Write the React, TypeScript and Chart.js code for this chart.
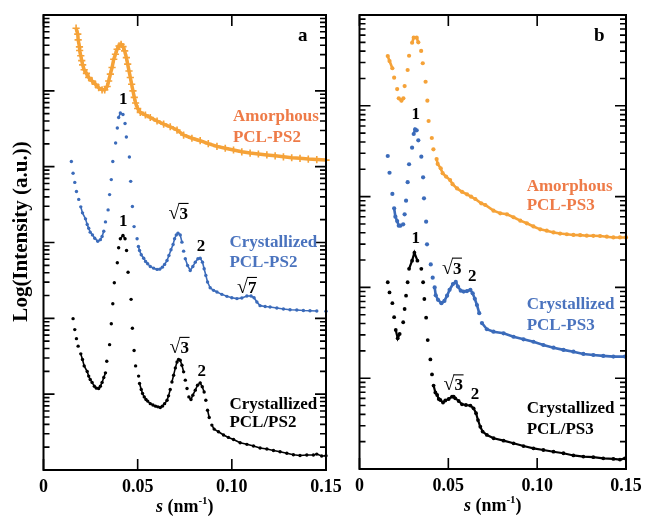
import React, { useEffect, useRef } from "react";
import { Chart, registerables } from "chart.js";

Chart.register(...registerables);

const FONT = '"Liberation Serif", "Times New Roman", serif';
const ORANGE = "#F5A238";
const ORANGE_TEXT = "#EE7B48";
const BLUE = "#3B6BBA";
const BLUE_TEXT = "#4A73BE";
const BLACK = "#000000";

const X_TICK_VALUES = [0, 0.05, 0.1, 0.15];
const X_TICK_LABELS = ["0", "0.05", "0.10", "0.15"];
const Y_MINOR_MULTS = [2, 3, 4, 5, 6, 7, 8, 9];

// ---------- Panel a : [s (nm^-1), intensity (a.u.)] ----------
const A_AMORPHOUS_PS2: [number, number][] = [
  [0.0173, 6.7e5], [0.0182, 5.6e5], [0.0184, 4.7e5], [0.0191, 3.8e5], [0.0192, 3.4e5],
  [0.0198, 2.9e5], [0.0203, 2.5e5], [0.0208, 2.2e5], [0.0216, 1.9e5], [0.0228, 1.7e5],
  [0.024, 1.5e5], [0.0258, 1.35e5], [0.0276, 1.22e5], [0.0293, 1.1e5], [0.0311, 1.03e5],
  [0.0325, 1.03e5], [0.0338, 1.14e5], [0.0346, 1.35e5], [0.0355, 1.66e5], [0.0364, 2.03e5],
  [0.0373, 2.61e5], [0.0382, 3.04e5], [0.0391, 3.54e5], [0.0401, 3.91e5], [0.0412, 4.11e5],
  [0.0422, 3.83e5], [0.0431, 3.36e5], [0.044, 2.74e5], [0.0447, 2.25e5], [0.0454, 1.83e5],
  [0.0461, 1.5e5], [0.0468, 1.22e5], [0.0475, 1.0e5], [0.0482, 8.2e4], [0.0489, 6.9e4],
  [0.05, 5.85e4], [0.0514, 5.2e4], [0.0541, 4.8e4], [0.0567, 4.45e4], [0.0603, 4.0e4],
  [0.0638, 3.65e4], [0.0673, 3.36e4], [0.0709, 3.04e4], [0.0744, 2.61e4], [0.0788, 2.37e4],
  [0.0832, 2.2e4], [0.0875, 2.01e4], [0.0921, 1.85e4], [0.0965, 1.75e4], [0.1009, 1.66e4],
  [0.1053, 1.57e4], [0.1097, 1.51e4], [0.1141, 1.47e4], [0.1186, 1.43e4], [0.123, 1.39e4],
  [0.1274, 1.35e4], [0.1318, 1.31e4], [0.1362, 1.29e4], [0.1406, 1.26e4], [0.1451, 1.24e4],
  [0.15, 1.22e4],
];

const A_CRYSTALLIZED_PS2: [number, number][] = [
  [0.0148, 1.17e4], [0.0157, 8.2e3], [0.0166, 6.2e3], [0.0175, 4.7e3], [0.0187, 3.7e3],
  [0.0198, 2.95e3], [0.0207, 2.46e3], [0.0223, 2.05e3], [0.0232, 1.73e3], [0.024, 1.54e3],
  [0.0248, 1.37e3], [0.026, 1.26e3], [0.0272, 1.14e3], [0.0288, 1.04e3], [0.0302, 1.09e3],
  [0.0311, 1.2e3], [0.032, 1.41e3], [0.0329, 1.87e3], [0.0343, 2.69e3], [0.0351, 4.28e3],
  [0.036, 6.75e3], [0.0368, 1.17e4], [0.0383, 2.05e4], [0.0392, 3.23e4], [0.0399, 4.45e4],
  [0.0408, 5.09e4], [0.0422, 4.88e4], [0.0433, 3.71e4], [0.044, 2.46e4], [0.0456, 1.34e4],
  [0.0463, 6.4e3], [0.0472, 2.98e3], [0.0481, 1.62e3], [0.0497, 1.12e3], [0.0504, 886],
  [0.051, 785], [0.0519, 689], [0.0532, 621], [0.0542, 562], [0.0553, 525],
  [0.0567, 483], [0.0585, 459], [0.0603, 442], [0.0617, 445], [0.0631, 473],
  [0.0643, 514], [0.0656, 579], [0.0666, 675], [0.0677, 802], [0.0688, 942],
  [0.0696, 1.12e3], [0.0705, 1.26e3], [0.0714, 1.33e3], [0.0726, 1.26e3], [0.0735, 1.01e3],
  [0.0744, 769], [0.0753, 611], [0.0765, 498], [0.0779, 428], [0.0793, 483],
  [0.0806, 551], [0.082, 611], [0.0832, 621], [0.0844, 551], [0.0853, 451],
  [0.0862, 368], [0.0871, 301], [0.0885, 253], [0.0903, 234], [0.0921, 222],
  [0.0947, 207], [0.0974, 195], [0.1, 187], [0.1027, 182], [0.1053, 185],
  [0.108, 197], [0.1102, 197], [0.1118, 187], [0.1133, 164], [0.115, 147],
  [0.1177, 143], [0.1203, 141], [0.1239, 137], [0.1274, 133], [0.1309, 130],
  [0.1345, 129], [0.138, 127], [0.1415, 126], [0.1451, 125], [0.15, 124],
];

const A_CRYSTALLIZED_PCL_PS2: [number, number][] = [
  [0.0157, 99], [0.0166, 71], [0.0175, 54], [0.0184, 43], [0.0198, 34],
  [0.0207, 28.6], [0.0216, 23.6], [0.0232, 19.9], [0.024, 17.3], [0.0248, 15.6],
  [0.0258, 14.3], [0.027, 12.7], [0.0281, 12.0], [0.0293, 11.9], [0.0302, 12.7],
  [0.0311, 14.3], [0.032, 16.6], [0.0329, 19.1], [0.0336, 27.2], [0.0351, 45],
  [0.036, 85], [0.0368, 156], [0.0376, 295], [0.0392, 541], [0.0399, 851],
  [0.0408, 1.12e3], [0.0422, 1.24e3], [0.0433, 1.12e3], [0.0441, 785], [0.0449, 406],
  [0.0465, 178], [0.0472, 74], [0.0481, 37.6], [0.0489, 23.6], [0.0505, 17.3],
  [0.051, 13.8], [0.0519, 11.5], [0.0526, 10.2], [0.0535, 9.2], [0.0544, 8.5],
  [0.0553, 8.1], [0.0567, 7.5], [0.0581, 7.2], [0.0595, 6.95], [0.0608, 6.8],
  [0.062, 6.68], [0.0631, 6.95], [0.0643, 7.5], [0.0656, 8.3], [0.0664, 9.5],
  [0.0673, 11.5], [0.0682, 14.5], [0.0691, 17.8], [0.07, 22.2], [0.0709, 26.6],
  [0.0717, 28.6], [0.0726, 28], [0.0735, 24.1], [0.0744, 19.7], [0.0753, 15.3],
  [0.0762, 11.9], [0.0772, 9.2], [0.0783, 8.5], [0.0793, 9.7], [0.0806, 11.3],
  [0.0818, 13.1], [0.0832, 14.1], [0.0843, 12.5], [0.0853, 10.7], [0.0862, 8.3],
  [0.0871, 6.15], [0.088, 4.93], [0.0894, 3.91], [0.0906, 3.46], [0.0929, 3.19],
  [0.0956, 2.89], [0.0982, 2.69], [0.1009, 2.52], [0.1044, 2.29], [0.108, 2.18],
  [0.1115, 2.07], [0.115, 1.95], [0.1186, 1.89], [0.1221, 1.81], [0.1256, 1.74],
  [0.1292, 1.66], [0.1327, 1.59], [0.1362, 1.55], [0.1398, 1.58], [0.1433, 1.58],
  [0.1451, 1.62], [0.1477, 1.53], [0.15, 1.54],
];

// ---------- Panel b ----------
const B_AMORPHOUS_PS3: [number, number][] = [
  [0.0159, 3.53e4], [0.0169, 3.11e4], [0.0185, 2.59e4], [0.0195, 2.04e4], [0.0212, 1.53e4],
  [0.0221, 1.21e4], [0.0236, 1.14e4], [0.0247, 1.21e4], [0.0254, 1.65e4], [0.0271, 2.48e4],
  [0.0279, 3.56e4], [0.0296, 4.95e4], [0.0305, 5.62e4], [0.0322, 5.62e4], [0.0331, 5.0e4],
  [0.0347, 4.02e4], [0.0356, 2.94e4], [0.0372, 1.84e4], [0.0382, 1.14e4], [0.0389, 6.8e3],
  [0.0407, 4.42e3], [0.0416, 3.32e3], [0.0434, 2.59e3], [0.044, 2.29e3], [0.0457, 2.05e3],
  [0.0468, 1.81e3], [0.0487, 1.66e3], [0.051, 1.52e3], [0.0524, 1.37e3], [0.0549, 1.23e3],
  [0.0577, 1.13e3], [0.0605, 1.06e3], [0.0628, 998], [0.0652, 941], [0.0685, 844],
  [0.0708, 808], [0.0754, 700], [0.0792, 655], [0.083, 638], [0.0867, 592],
  [0.0905, 543], [0.0942, 508], [0.0979, 469], [0.1017, 436], [0.1054, 421],
  [0.1092, 403], [0.1129, 392], [0.1167, 385], [0.1204, 378], [0.1242, 376],
  [0.1279, 371], [0.1316, 370], [0.1354, 368], [0.1392, 362], [0.1429, 355],
  [0.1466, 355], [0.15, 355],
];

const B_CRYSTALLIZED_PS3: [number, number][] = [
  [0.0159, 2.8e3], [0.0169, 1.83e3], [0.0185, 1.07e3], [0.0195, 743], [0.0202, 601],
  [0.0212, 538], [0.0221, 478], [0.023, 478], [0.0246, 495], [0.0254, 638],
  [0.0262, 901], [0.0271, 1.44e3], [0.0279, 2.27e3], [0.0296, 3.46e3], [0.0305, 4.89e3],
  [0.0313, 5.51e3], [0.0322, 5.37e3], [0.0331, 4.17e3], [0.0348, 2.75e3], [0.0358, 1.63e3],
  [0.0363, 958], [0.0375, 529], [0.038, 298], [0.0401, 179], [0.0412, 128],
  [0.0423, 100], [0.0429, 82], [0.0442, 73], [0.0461, 67], [0.0478, 71],
  [0.0493, 81], [0.0507, 94], [0.0526, 109], [0.0542, 115], [0.0554, 102],
  [0.057, 92], [0.0586, 90], [0.0605, 91], [0.0624, 94], [0.0637, 86],
  [0.0649, 75], [0.0661, 64], [0.0674, 52], [0.0689, 40.5], [0.0717, 34.6],
  [0.0754, 32.5], [0.0811, 31.2], [0.0867, 28.6], [0.0923, 26.8], [0.0979, 25.2],
  [0.1035, 23.2], [0.1092, 21.7], [0.1148, 20.5], [0.1204, 19.6], [0.126, 18.5],
  [0.1316, 18.0], [0.1372, 17.6], [0.1429, 17.3], [0.1494, 17.3],
];

const B_CRYSTALLIZED_PCL_PS3: [number, number][] = [
  [0.0159, 114], [0.0169, 88], [0.0185, 67], [0.0195, 47], [0.0204, 34],
  [0.0215, 27.5], [0.0226, 30.7], [0.0246, 41.3], [0.0254, 57.8], [0.0262, 81],
  [0.0271, 114], [0.0279, 160], [0.0296, 197], [0.0309, 241], [0.0326, 197],
  [0.0348, 160], [0.0358, 114], [0.0365, 74.5], [0.0375, 46.4], [0.0384, 26.3],
  [0.0399, 16.1], [0.0408, 11.0], [0.0417, 8.3], [0.0427, 6.96], [0.0437, 6.53],
  [0.0446, 5.9], [0.0455, 5.75], [0.047, 5.4], [0.0483, 5.68], [0.0502, 5.9],
  [0.0521, 6.26], [0.053, 6.26], [0.0539, 6.01], [0.0558, 5.61], [0.0577, 5.16],
  [0.0599, 5.07], [0.0624, 5.0], [0.0642, 4.66], [0.0656, 4.11], [0.0667, 3.46],
  [0.068, 2.92], [0.0693, 2.58], [0.0717, 2.37], [0.0755, 2.18], [0.0811, 2.05],
  [0.0867, 1.92], [0.0923, 1.79], [0.0979, 1.69], [0.1035, 1.62], [0.1092, 1.55],
  [0.1148, 1.49], [0.1204, 1.41], [0.126, 1.37], [0.1316, 1.35], [0.1372, 1.31],
  [0.1429, 1.29], [0.1466, 1.27], [0.1494, 1.31],
];

type Label = { t: string; s: number; v: number; color?: string; align?: "left" | "center"; size?: number; sqrt?: boolean };

const A_LABELS: Label[] = [
  { t: "a", s: 0.1377, v: 5.6e5, size: 19 },
  { t: "1", s: 0.0424, v: 8.1e4 },
  { t: "1", s: 0.0424, v: 1.94e3 },
  { t: "3", s: 0.0716, v: 2.47e3, sqrt: true },
  { t: "2", s: 0.0836, v: 927 },
  { t: "7", s: 0.1079, v: 261, sqrt: true },
  { t: "3", s: 0.0721, v: 42.3, sqrt: true },
  { t: "2", s: 0.084, v: 20.8 },
  { t: "Amorphous", s: 0.1006, v: 4.8e4, color: ORANGE_TEXT, align: "left" },
  { t: "PCL-PS2", s: 0.1006, v: 2.54e4, color: ORANGE_TEXT, align: "left" },
  { t: "Crystallized", s: 0.0987, v: 1.03e3, color: BLUE_TEXT, align: "left" },
  { t: "PCL-PS2", s: 0.0987, v: 558, color: BLUE_TEXT, align: "left" },
  { t: "Crystallized", s: 0.0987, v: 7.58, align: "left" },
  { t: "PCL/PS2", s: 0.0987, v: 4.34, align: "left" },
];

const B_LABELS: Label[] = [
  { t: "b", s: 0.135, v: 6.1e4, size: 19 },
  { t: "1", s: 0.0316, v: 8.3e3 },
  { t: "1", s: 0.0316, v: 355 },
  { t: "3", s: 0.0519, v: 166, sqrt: true },
  { t: "2", s: 0.0635, v: 137 },
  { t: "3", s: 0.0528, v: 8.6, sqrt: true },
  { t: "2", s: 0.065, v: 6.8 },
  { t: "Amorphous", s: 0.0941, v: 1.34e3, color: ORANGE_TEXT, align: "left" },
  { t: "PCL-PS3", s: 0.0941, v: 829, color: ORANGE_TEXT, align: "left" },
  { t: "Crystallized", s: 0.0941, v: 67.8, color: BLUE_TEXT, align: "left" },
  { t: "PCL-PS3", s: 0.0941, v: 39.5, color: BLUE_TEXT, align: "left" },
  { t: "Crystallized", s: 0.0941, v: 4.85, align: "left" },
  { t: "PCL/PS3", s: 0.0941, v: 2.81, align: "left" },
];

type PanelDef = {
  key: string;
  yMaxExp: number;
  labels: Label[];
  yTitle: boolean;
  padding: { left: number; right: number; top: number; bottom: number };
  datasets: any[];
};

const toPts = (arr: [number, number][]) => arr.map(([x, y]) => ({ x, y }));

// Densely sampled runs of markers merge into a band: join only near neighbours
// (close in distance, or flat neighbours along the tail).
const denseSegment = (color: string, maxGap: number, flatDx: number, flatDy: number) => ({
  borderColor: (ctx: any) => {
    const dx = Math.abs(ctx.p1.x - ctx.p0.x);
    const dy = Math.abs(ctx.p1.y - ctx.p0.y);
    const join = Math.hypot(dx, dy) < maxGap || (dx < flatDx && dy < flatDy);
    return join ? color : "rgba(0,0,0,0)";
  },
});

const dotSet = (
  arr: [number, number][], color: string, r: number, band: number,
  maxGap: number, flatDx: number, flatDy: number,
) => ({
  data: toPts(arr),
  showLine: true,
  borderWidth: band,
  borderColor: color,
  segment: denseSegment(color, maxGap, flatDx, flatDy),
  pointStyle: "circle",
  pointRadius: r,
  pointBorderWidth: 0,
  pointBackgroundColor: color,
  pointBorderColor: color,
  clip: false,
});

function drawSqrt(ctx: CanvasRenderingContext2D, digit: string, cx: number, cy: number, size: number, color: string) {
  ctx.fillStyle = color;
  ctx.strokeStyle = color;
  ctx.textAlign = "left";
  ctx.textBaseline = "alphabetic";
  ctx.font = `${size + 3}px ${FONT}`;
  const m1 = ctx.measureText("\u221A");
  const w1 = m1.width;
  ctx.font = `bold ${size}px ${FONT}`;
  const w2 = ctx.measureText(digit).width;
  const x0 = cx - (w1 + w2) / 2;
  const base = cy + size * 0.36;
  ctx.font = `${size + 3}px ${FONT}`;
  ctx.fillText("\u221A", x0, base);
  const topY = base - m1.actualBoundingBoxAscent;
  ctx.font = `bold ${size}px ${FONT}`;
  ctx.fillText(digit, x0 + w1, base);
  ctx.lineWidth = 1.1;
  ctx.beginPath();
  ctx.moveTo(x0 + w1 - 1, topY + 0.6);
  ctx.lineTo(x0 + w1 + w2 + 0.5, topY + 0.6);
  ctx.stroke();
}

const decorPlugin = (p: PanelDef) => ({
  id: "decor" + p.key,
  afterDatasetsDraw(chart: any) {
    const ctx: CanvasRenderingContext2D = chart.ctx;
    const { left, right, top, bottom } = chart.chartArea;
    const xs = chart.scales.x;
    const ys = chart.scales.y;
    ctx.save();
    ctx.strokeStyle = "#000";
    ctx.lineWidth = 2;
    ctx.strokeRect(left, top, right - left, bottom - top);
    ctx.lineWidth = 1.6;
    ctx.beginPath();
    for (const v of X_TICK_VALUES) {
      const px = xs.getPixelForValue(v);
      ctx.moveTo(px, bottom);
      ctx.lineTo(px, bottom - 11);
      ctx.moveTo(px, top);
      ctx.lineTo(px, top + 11);
    }
    for (let e = 0; e <= p.yMaxExp; e++) {
      const base = Math.pow(10, e);
      const py = ys.getPixelForValue(base);
      ctx.moveTo(left, py);
      ctx.lineTo(left + 11, py);
      ctx.moveTo(right, py);
      ctx.lineTo(right - 11, py);
      if (e === p.yMaxExp) continue;
      for (const m of Y_MINOR_MULTS) {
        const pm = ys.getPixelForValue(m * base);
        ctx.moveTo(left, pm);
        ctx.lineTo(left + 6, pm);
        ctx.moveTo(right, pm);
        ctx.lineTo(right - 6, pm);
      }
    }
    ctx.stroke();

    ctx.fillStyle = "#000";
    ctx.font = `bold 18px ${FONT}`;
    ctx.textAlign = "center";
    ctx.textBaseline = "alphabetic";
    X_TICK_VALUES.forEach((v, i) => {
      ctx.fillText(X_TICK_LABELS[i], xs.getPixelForValue(v), bottom + 22);
    });

    const cx = (left + right) / 2;
    const by = bottom + 42;
    const parts = [
      { t: "s", f: `italic bold 18px ${FONT}`, dy: 0 },
      { t: " (nm", f: `bold 18px ${FONT}`, dy: 0 },
      { t: "-1", f: `bold 11px ${FONT}`, dy: -8 },
      { t: ")", f: `bold 18px ${FONT}`, dy: 0 },
    ];
    let total = 0;
    for (const pt of parts) {
      ctx.font = pt.f;
      total += ctx.measureText(pt.t).width;
    }
    let xx = cx - total / 2;
    ctx.textAlign = "left";
    for (const pt of parts) {
      ctx.font = pt.f;
      ctx.fillText(pt.t, xx, by + pt.dy);
      xx += ctx.measureText(pt.t).width;
    }

    if (p.yTitle) {
      ctx.save();
      ctx.translate(22, (top + bottom) / 2 - 11);
      ctx.rotate(-Math.PI / 2);
      ctx.font = `bold 21px ${FONT}`;
      ctx.textAlign = "center";
      ctx.textBaseline = "middle";
      ctx.fillText("Log(Intensity (a.u.))", 0, 0);
      ctx.restore();
    }

    for (const l of p.labels) {
      const px = xs.getPixelForValue(l.s);
      const py = ys.getPixelForValue(l.v);
      const size = l.size ?? 17;
      const color = l.color ?? BLACK;
      if (l.sqrt) {
        drawSqrt(ctx, l.t, px, py, size, color);
        continue;
      }
      ctx.fillStyle = color;
      ctx.font = `bold ${size}px ${FONT}`;
      ctx.textAlign = l.align ?? "center";
      ctx.textBaseline = "alphabetic";
      ctx.fillText(l.t, px, py + size * 0.34);
    }
    ctx.restore();
  },
});

const PANEL_A: PanelDef = {
  key: "a",
  yMaxExp: 6,
  labels: A_LABELS,
  yTitle: true,
  padding: { left: 43.5, right: 22, top: 15, bottom: 47 },
  datasets: [
    {
      data: toPts(A_AMORPHOUS_PS2),
      showLine: true,
      borderWidth: 3.5,
      borderColor: ORANGE,
      segment: denseSegment(ORANGE, 11, 0, 0),
      pointStyle: "cross",
      pointRadius: 3.6,
      pointBorderWidth: 1.6,
      pointBorderColor: ORANGE,
      pointBackgroundColor: ORANGE,
      clip: false,
    },
    dotSet(A_CRYSTALLIZED_PS2, BLUE, 1.7, 1.6, 7.5, 9, 3),
    dotSet(A_CRYSTALLIZED_PCL_PS2, BLACK, 1.7, 1.6, 7.5, 9, 3),
  ],
};

const PANEL_B: PanelDef = {
  key: "b",
  yMaxExp: 5,
  labels: B_LABELS,
  yTitle: false,
  padding: { left: 11.5, right: 20, top: 15, bottom: 48 },
  datasets: [
    dotSet(B_AMORPHOUS_PS3, ORANGE, 2.1, 2.6, 9, 13, 6),
    dotSet(B_CRYSTALLIZED_PS3, BLUE, 2.1, 2.6, 9, 13, 6),
    dotSet(B_CRYSTALLIZED_PCL_PS3, BLACK, 1.9, 2.2, 9, 13, 6),
  ],
};

function buildConfig(p: PanelDef): any {
  return {
    type: "scatter",
    data: { datasets: p.datasets },
    options: {
      responsive: false,
      animation: false,
      devicePixelRatio: 1,
      events: [],
      layout: { padding: p.padding },
      plugins: { legend: { display: false }, tooltip: { enabled: false } },
      scales: {
        x: { type: "linear", min: 0, max: 0.15, display: false },
        y: { type: "logarithmic", min: 1, max: Math.pow(10, p.yMaxExp), display: false },
      },
    },
    plugins: [decorPlugin(p)],
  };
}

export default function App() {
  const refA = useRef<HTMLCanvasElement>(null);
  const refB = useRef<HTMLCanvasElement>(null);
  useEffect(() => {
    document.body.style.margin = "0";
    const ca = new Chart(refA.current as HTMLCanvasElement, buildConfig(PANEL_A));
    const cb = new Chart(refB.current as HTMLCanvasElement, buildConfig(PANEL_B));
    return () => {
      ca.destroy();
      cb.destroy();
    };
  }, []);
  return (
    <div style={{ position: "relative", width: 646, height: 517, background: "#fff", overflow: "hidden" }}>
      <canvas ref={refA} width={348} height={517} style={{ position: "absolute", left: 0, top: 0 }} />
      <canvas ref={refB} width={298} height={517} style={{ position: "absolute", left: 348, top: 0 }} />
    </div>
  );
}
